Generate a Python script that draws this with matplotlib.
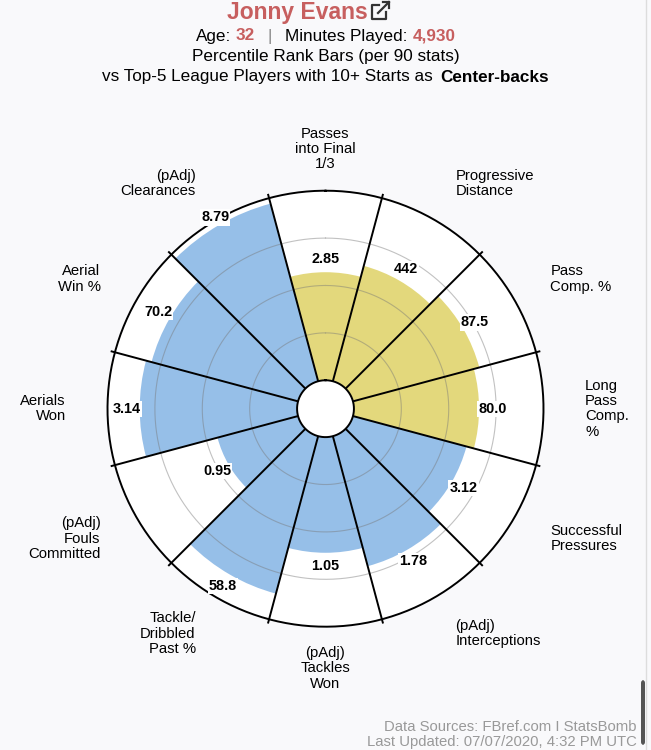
import numpy as np
import matplotlib
matplotlib.use("Agg")
import matplotlib.pyplot as plt
from matplotlib.lines import Line2D
from matplotlib.patches import FancyBboxPatch

plt.rcParams['font.family'] = ['Liberation Sans', 'DejaVu Sans']

# stats, clockwise from the top
stat_names = ["Passes\ninto Final\n1/3", "Progressive\nDistance", "Pass\nComp. %",
              "Long\nPass\nComp.\n%", "Successful\nPressures", "(pAdj)\nInterceptions",
              "(pAdj)\nTackles\nWon", "Tackle/\nDribbled\nPast %", "(pAdj)\nFouls\nCommitted",
              "Aerials\nWon", "Aerial\nWin %", "(pAdj)\nClearances"]
stat_values = ["2.85", "442", "87.5", "80.0", "3.12", "1.78",
               "1.05", "58.8", "0.95", "3.14", "70.2", "8.79"]
percentiles = [57, 63, 69, 66, 62, 71, 61, 86, 44, 83, 80, 97]
stat_group = ["pass", "pass", "pass", "pass", "def", "def",
              "def", "def", "def", "def", "def", "def"]

player = "Jonny Evans"
age = "32"
minutes = "4,930"

bg = '#f9f9fb'
red = '#c75f5f'
group_colors = {"pass": '#e3d87c', "def": '#96bfe8'}

W, H = 651, 750
fig = plt.figure(figsize=(W / 100, H / 100), dpi=100)
fig.patch.set_facecolor(bg)

# polar axes placed so the wheel sits where it does in the page
cx, cy, R = 325.5, 408.7, 218
ax = fig.add_axes([(cx - R) / W, (H - cy - R) / H, 2 * R / W, 2 * R / H], projection='polar')
ax.set_theta_zero_location('N')
ax.set_theta_direction(-1)
ax.set_ylim(-15, 100)
ax.set_xticks([])
ax.set_yticks([])
ax.grid(False)
ax.spines['polar'].set_visible(False)
ax.set_facecolor('white')

n = len(stat_names)
width = 2 * np.pi / n
theta = np.arange(n) * width
colors = [group_colors[g] for g in stat_group]

ax.bar(theta, percentiles, width=width, bottom=0, color=colors, zorder=2, linewidth=0)

# grid rings
ring = np.linspace(0, 2 * np.pi, 500)
for r in [25, 50, 75]:
    ax.plot(ring, [r] * len(ring), color='#777777', lw=0.8, alpha=0.45, zorder=3)
ax.plot(ring, [100] * len(ring), color='black', lw=1.4, zorder=4, clip_on=False)

# spokes between segments
for a in theta + width / 2:
    ax.plot([a, a], [0, 101.8], color='black', lw=1.4, zorder=4, clip_on=False)

# centre hole
ax.bar(0, 15, width=2 * np.pi, bottom=-15, color='white', zorder=5, linewidth=0)
ax.plot(ring, [0] * len(ring), color='black', lw=1.4, zorder=6)

# value labels just outside each bar
for t, p, v in zip(theta, percentiles, stat_values):
    ax.text(t, min(p + 7, 101.5), v, ha='center', va='center', fontsize=10.4,
            fontweight='bold', zorder=7,
            bbox=dict(boxstyle='square,pad=0.08', fc='white', ec='none'))

# category labels round the outside
for t, name in zip(theta, stat_names):
    deg = np.degrees(t) % 360
    if deg in (0, 180):
        ha = 'center'
    elif deg < 180:
        ha = 'left'
    else:
        ha = 'right'
    ax.text(t, 122, name, ha=ha, va='center', fontsize=10.7, linespacing=1.12,
            multialignment=ha, clip_on=False)

# header
fig.text(297 / W, 1 - 12 / H, player, ha='center', va='center', fontsize=16.5,
         fontweight='bold', color=red)
# little "external link" icon after the name
ix, iy = 372, 5
box = [(ix + 7, iy), (ix, iy), (ix, iy + 14), (ix + 14, iy + 14), (ix + 14, iy + 7)]
fig.add_artist(Line2D([p[0] / W for p in box], [1 - p[1] / H for p in box],
                      color='#333333', lw=1.6, solid_joinstyle='round'))
fig.add_artist(Line2D([(ix + 6) / W, (ix + 17) / W], [1 - (iy + 8) / H, 1 - (iy - 3) / H],
                      color='#333333', lw=1.6))
fig.add_artist(Line2D([(ix + 11) / W, (ix + 17) / W, (ix + 17) / W],
                      [1 - (iy - 3) / H, 1 - (iy - 3) / H, 1 - (iy + 3) / H],
                      color='#333333', lw=1.6))


def rich_line(parts, y, size):
    texts, gaps = [], []
    for s, color, weight, gap in parts:
        texts.append(fig.text(0, 1 - y / H, s, color=color, fontsize=size,
                              fontweight=weight, ha='left', va='center'))
        gaps.append(gap)
    fig.canvas.draw()
    rend = fig.canvas.get_renderer()
    widths = [t.get_window_extent(rend).width for t in texts]
    total = sum(widths) + sum(gaps)
    x = cx - total / 2
    for t, w, g in zip(texts, widths, gaps):
        x += g
        t.set_x(x / W)
        x += w


sp = 4.7
rich_line([("Age:", 'black', 'normal', 0), (age, red, 'bold', sp),
           ("|", '#888888', 'normal', 2.8 * sp), ("Minutes Played:", 'black', 'normal', 2.8 * sp),
           (minutes, red, 'bold', sp)], 36, 12.3)
rich_line([("Percentile Rank Bars (per 90 stats)", 'black', 'normal', 0)], 57, 12.3)
rich_line([("vs Top-5 League Players with 10+ Starts as", 'black', 'normal', 0),
           ("Center-backs", 'black', 'bold', 1.6 * sp)], 77, 12.3)

# footer
fig.text(637 / W, 1 - 727 / H, "Data Sources: FBref.com I StatsBomb", ha='right', va='center',
         fontsize=10.7, color='#999999')
fig.text(637 / W, 1 - 742 / H, "Last Updated: 07/07/2020, 4:32 PM UTC", ha='right', va='center',
         fontsize=10.7, color='#999999')

# page edge / scrollbar from the screenshot
fig.add_artist(Line2D([646 / W, 646 / W], [0, 1], color='#dddddd', lw=1))
fig.add_artist(FancyBboxPatch((641 / W, 5 / H), 4 / W, 65 / H,
                              boxstyle='round,pad=0,rounding_size=0.004',
                              transform=fig.transFigure, fc='#555555', ec='none'))

fig.savefig('out.png', dpi=100, facecolor=bg)
